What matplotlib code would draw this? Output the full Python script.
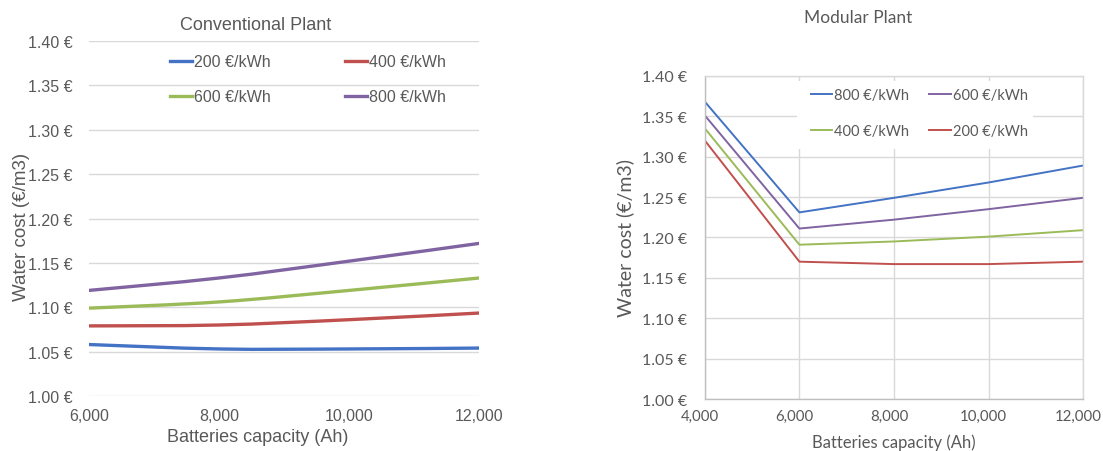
import matplotlib.pyplot as plt
import matplotlib.transforms as mtransforms
from matplotlib.ticker import FuncFormatter
from matplotlib.path import Path
from matplotlib.patches import PathPatch, Rectangle
from matplotlib.lines import Line2D

# Conventional plant
conv_x = [6000, 8000, 10000, 12000]
conv_200 = [1.058, 1.053, 1.053, 1.054]
conv_400 = [1.079, 1.080, 1.086, 1.0935]
conv_600 = [1.099, 1.106, 1.119, 1.133]
conv_800 = [1.119, 1.133, 1.152, 1.172]

# Modular plant
mod_x = [4000, 6000, 8000, 10000, 12000]
mod_800 = [1.368, 1.231, 1.249, 1.268, 1.289]
mod_600 = [1.351, 1.211, 1.222, 1.235, 1.249]
mod_400 = [1.335, 1.191, 1.195, 1.201, 1.209]
mod_200 = [1.320, 1.170, 1.167, 1.167, 1.170]

yticks = [1.00, 1.05, 1.10, 1.15, 1.20, 1.25, 1.30, 1.35, 1.40]

BLUE = '#4472C4'
RED = '#C0504D'
GREEN = '#9BBB59'
PURPLE = '#8064A2'
TXT = '#595959'
GRID = '#D9D9D9'

euro = FuncFormatter(lambda v, p: '%.2f €' % v)
thous = FuncFormatter(lambda v, p: '{:,.0f}'.format(v))


def smooth_line(ax, xs, ys, color, lw):
    # excel-like smoothed line: bezier segments through the data points
    pts = list(zip(xs, ys))
    verts = [pts[0]]
    codes = [Path.MOVETO]
    n = len(pts)
    for i in range(n - 1):
        p0 = pts[i - 1] if i > 0 else pts[i]
        p1 = pts[i]
        p2 = pts[i + 1]
        p3 = pts[i + 2] if i + 2 < n else pts[i + 1]
        c1 = (p1[0] + (p2[0] - p0[0]) / 6, p1[1] + (p2[1] - p0[1]) / 6)
        c2 = (p2[0] - (p3[0] - p1[0]) / 6, p2[1] - (p3[1] - p1[1]) / 6)
        verts += [c1, c2, p2]
        codes += [Path.CURVE4] * 3
    ax.add_patch(PathPatch(Path(verts, codes), fill=False, edgecolor=color,
                           lw=lw, capstyle='round', joinstyle='round'))
    return Line2D([], [], color=color, lw=lw)


fig = plt.figure(figsize=(11.03, 4.52), dpi=100)

# ---- left chart
ax1 = fig.add_axes([0.0807, 0.1217, 0.354, 0.7853])
f1 = ['Liberation Sans', 'DejaVu Sans']
l200 = smooth_line(ax1, conv_x, conv_200, BLUE, 2.4)
l400 = smooth_line(ax1, conv_x, conv_400, RED, 2.4)
l600 = smooth_line(ax1, conv_x, conv_600, GREEN, 2.4)
l800 = smooth_line(ax1, conv_x, conv_800, PURPLE, 2.4)
ax1.set_xlim(6000, 12000)
ax1.set_ylim(1.00, 1.40)
ax1.set_yticks(yticks)
ax1.set_xticks(conv_x)
ax1.yaxis.set_major_formatter(euro)
ax1.xaxis.set_major_formatter(thous)
ax1.grid(axis='y', color=GRID, lw=1)
ax1.set_axisbelow(True)
for s in ax1.spines.values():
    s.set_visible(False)
ax1.tick_params(axis='y', length=0, labelsize=11.5, colors=TXT, pad=12)
ax1.tick_params(axis='x', length=0, labelsize=11.5, colors=TXT, pad=9)
for t in ax1.get_xticklabels() + ax1.get_yticklabels():
    t.set_family(f1)
ax1.set_xlabel('Batteries capacity (Ah)', fontsize=13, color=TXT, family=f1)
ax1.xaxis.set_label_coords(0.433, -0.09)
ax1.set_ylabel('Water cost (€/m3)', fontsize=13.5, color=TXT, family=f1)
ax1.yaxis.set_label_coords(-0.15, 0.48)
ax1.set_title('Conventional Plant', fontsize=13, color=TXT, family=f1, pad=9, x=0.427)
ax1.legend([l200, l600, l400, l800], ['200 €/kWh', '600 €/kWh', '400 €/kWh', '800 €/kWh'],
           ncol=2, frameon=False, loc='upper left', bbox_to_anchor=(0.207, 0.963),
           handlelength=1.4, handletextpad=0.1, columnspacing=4.65, labelspacing=1.25,
           borderpad=0, borderaxespad=0,
           prop={'family': f1, 'size': 11.5}, labelcolor=TXT)

# ---- right chart
ax2 = fig.add_axes([0.639, 0.115, 0.343, 0.715])
f2 = ['Lato', 'DejaVu Sans']
m800, = ax2.plot(mod_x, mod_800, color=BLUE, lw=1.4)
m600, = ax2.plot(mod_x, mod_600, color=PURPLE, lw=1.4)
m400, = ax2.plot(mod_x, mod_400, color=GREEN, lw=1.4)
m200, = ax2.plot(mod_x, mod_200, color=RED, lw=1.4)
ax2.set_xlim(4000, 12000)
ax2.set_ylim(1.00, 1.40)
ax2.set_yticks(yticks)
ax2.set_xticks(mod_x)
ax2.yaxis.set_major_formatter(euro)
ax2.xaxis.set_major_formatter(thous)
ax2.grid(color=GRID, lw=1)
ax2.set_axisbelow(True)
for s in ax2.spines.values():
    s.set_color(GRID)
    s.set_linewidth(1)
ax2.spines['left'].set_color('#BFBFBF')
ax2.spines['bottom'].set_color('#BFBFBF')
ax2.tick_params(axis='y', length=0, labelsize=11.5, colors=TXT, pad=13)
ax2.tick_params(axis='x', length=0, labelsize=10.8, colors=TXT, pad=7)
shift = mtransforms.ScaledTranslation(-5 / 100, 0, fig.dpi_scale_trans)
for t in ax2.get_xticklabels():
    t.set_family(f2)
    t.set_transform(t.get_transform() + shift)
for t in ax2.get_yticklabels():
    t.set_family(f2)
ax2.set_xlabel('Batteries capacity (Ah)', fontsize=12, color=TXT, family=f2)
ax2.xaxis.set_label_coords(0.5, -0.105)
ax2.set_ylabel('Water cost (€/m3)', fontsize=14, color=TXT, family=f2)
ax2.yaxis.set_label_coords(-0.188, 0.5)
fig.text(0.778, 0.96, 'Modular Plant', fontsize=12.5, color=TXT, family=f2, ha='center', va='center')
# white legend background hides the grid behind it
ax2.add_patch(Rectangle((0.243, 0.774), 0.625, 0.211, transform=ax2.transAxes,
                        facecolor='white', edgecolor='none', zorder=1))
ax2.legend([m800, m400, m600, m200], ['800 €/kWh', '400 €/kWh', '600 €/kWh', '200 €/kWh'],
           ncol=2, frameon=False, loc='upper left', bbox_to_anchor=(0.28, 0.963),
           handlelength=1.45, handletextpad=0.15, columnspacing=1.4, labelspacing=1.55,
           borderpad=0, borderaxespad=0,
           prop={'family': f2, 'size': 10.5}, labelcolor=TXT)

fig.savefig('out.png', dpi=100)
